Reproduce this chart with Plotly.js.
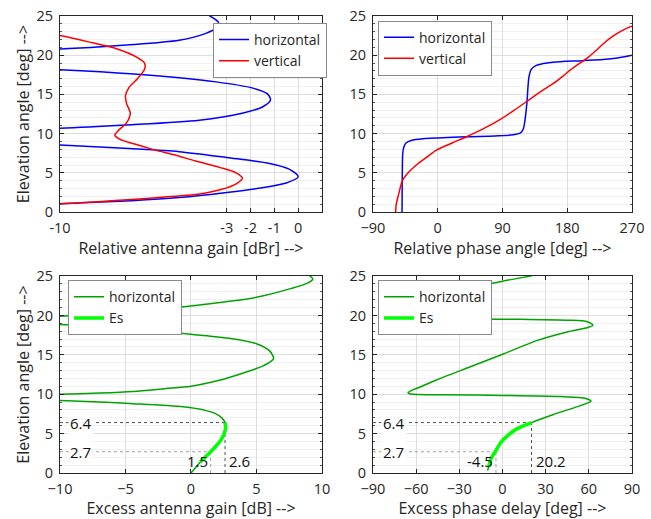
<!DOCTYPE html>
<html><head><meta charset="utf-8">
<script src="https://cdn.plot.ly/plotly-3.0.1.min.js"></script>
<style>html,body{margin:0;padding:0;background:#fff}#chart{width:651px;height:519px}</style>
</head><body><div id="chart"></div>
<script>
// ---- Top-left: relative antenna gain [dBr] vs elevation [deg] ----
const relGainH = [-12,-10,-7,-5,-3,-1.5,-0.5,0,-0.4,-1.2,-3,-5,-7.1,-10,-12, null,
  -12,-10,-7.2,-4.15,-2.35,-1.5,-1.16,-1.3,-1.9,-3.45,-6.9,-10,-12, null,
  -12,-10,-7.2,-5,-3.9,-3.4,-3.35,-3.7,-4];
const relGainHElev = [0.95,1.06,1.45,1.85,2.5,3.1,3.7,4.5,5.5,6.2,6.95,7.7,8.1,8.55,8.75, null,
  10.6,10.7,11.1,11.7,12.6,13.4,14.3,15.1,15.8,16.6,17.6,18.15,18.35, null,
  20.7,20.8,21.3,21.9,22.75,23.6,24.2,25,25.4];
const relGainV = [-12,-10,-7,-5.5,-4.15,-3.2,-2.6,-2.34,-2.6,-3.3,-4.3,-5.2,-6.0,-6.9,-7.5,-7.7,-7.55,-7.2,-7.05,-7.2,-7.25,-7.1,-6.75,-6.45,-6.45,-6.8,-7.6,-8.8,-10,-11];
const relGainVElev = [0.95,1.06,1.6,1.95,2.3,2.9,3.6,4.3,5.0,5.7,6.5,7.3,7.9,8.7,9.3,9.8,10.4,11.4,12.6,13.8,14.8,15.9,17.0,18.2,19.0,19.8,20.8,21.7,22.5,23];
const tlXTicks = [-10,-3,-2,-1,0];

// ---- Top-right: relative phase angle [deg] vs elevation ----
const relPhaseH = [-49.5,-49.3,-49,-48.5,-47,-44,-36,-20,0,40,80,105,115,119,121,123,124.5,125.5,127,130,137,145,160,200,230,250,270];
const relPhaseHElev = [0,3,6,7.5,8.3,8.8,9.15,9.35,9.45,9.6,9.7,9.85,10.1,10.6,11.5,13,14.5,16,17.3,18.2,18.7,18.9,19.1,19.3,19.45,19.65,20.0];
const relPhaseV = [-58.4,-57.5,-56,-52.8,-49,-41,-29.6,-15,-1.7,20,40.1,65,86.5,105,123.7,142,160.8,175,184,196,207.3,220,230.5,243,253.7,263,270];
const relPhaseVElev = [0,1,1.6,2.8,4.0,5.0,6.0,7.0,7.9,8.8,9.6,10.7,11.8,12.9,14.1,15.3,16.4,17.4,18.1,18.9,19.6,20.6,21.5,22.4,23.0,23.45,23.7];

// ---- Bottom-left: excess antenna gain [dB] ----
const exGainH = [0,0.4,0.83,1.2,1.5,1.9,2.25,2.5,2.65,2.6,2.35,1.8,1.1,-0.6,-4.4,-7,-10,-12, null,
  -12,-10,-7,-4.4,-2,0,2,4,5.5,6.3,6.0,5.0,3.3,0,-4.4,-7,-10,-12, null,
  -12,-10,-6,-2,0,2.5,5,7.6,8.9,9.3,9.1,8.7];
const exGainHElev = [0,0.8,1.6,2.2,2.7,3.4,4.1,4.9,5.7,6.4,7.0,7.6,7.95,8.4,8.8,9.0,9.2,9.3, null,
  9.95,10.0,10.15,10.35,10.7,11.0,11.7,12.7,13.6,14.5,15.5,16.4,17.0,17.6,18.3,18.6,18.85,18.95, null,
  19.85,19.9,20.4,20.9,21.2,21.7,22.3,23.4,24.1,24.6,25,25.4];
const exGainEs = [0.7,0.83,1.2,1.5,1.9,2.25,2.5,2.65,2.6];
const exGainEsElev = [1.4,1.6,2.2,2.7,3.4,4.1,4.9,5.7,6.4];

// ---- Bottom-right: excess phase delay [deg] ----
const exPhaseH = [-10.3,-9.3,-7.5,-5,-1,4,10,20.2,35,50,58,61.5,58,40,0,-40,-58,-64.5,-65.6,-63.5,-58,-45.9,-22.7,0.6,23.8,45,58,62.8,59,45,12,-18,-45,-60,-66,-62,-45,-19,0,19.2,25];
const exPhaseHElev = [0.3,1.0,2.0,2.7,3.9,4.8,5.6,6.4,7.4,8.3,8.8,9.1,9.45,9.7,9.85,9.92,9.97,10.05,10.2,10.45,10.85,11.8,13.45,15.1,16.8,17.9,18.4,18.75,19.2,19.4,19.5,19.55,19.65,19.9,20.5,21.3,22.3,23.6,24.35,25.0,25.3];
const exPhaseEs = [-9.5,-9.3,-7.5,-5,-1,4,10,20.2];
const exPhaseEsElev = [0.8,1.0,2.0,2.7,3.9,4.8,5.6,6.4];

// ---- Es marker values ----
const esElevMarks = [2.7, 6.4];
const esGainMarks = [1.5, 2.6];
const esPhaseMarks = [-4.5, 20.2];

const FONT = 'Open Sans, Noto Sans, sans-serif';
const TXT = '#262626';
const BLUE = '#0000ff', RED = '#ff0000', DGREEN = '#00a300', LGREEN = '#00ff00';
const markColors = ['#a0a0a0', '#505050'];

const traces = [];
function markLines(xa, ya, xmin, xs) {
  for (let i = 0; i < esElevMarks.length; i++) {
    const c = markColors[i];
    traces.push({x: [xmin, xs[i]], y: [esElevMarks[i], esElevMarks[i]], xaxis: xa, yaxis: ya, mode: 'lines',
      line: {color: c, width: 1, dash: '3px,3px'}, showlegend: false, hoverinfo: 'skip'});
    traces.push({x: [xs[i], xs[i]], y: [0, esElevMarks[i]], xaxis: xa, yaxis: ya, mode: 'lines',
      line: {color: c, width: 1, dash: '3px,3px'}, showlegend: false, hoverinfo: 'skip'});
  }
}
markLines('x3', 'y3', -10, esGainMarks);
markLines('x4', 'y4', -90, esPhaseMarks);

const sp = {shape: 'spline', smoothing: 0.8};
traces.push({x: relGainH, y: relGainHElev, xaxis: 'x', yaxis: 'y', mode: 'lines', name: 'horizontal', legend: 'legend',
  line: Object.assign({color: BLUE, width: 1.5}, sp), connectgaps: false});
traces.push({x: relGainV, y: relGainVElev, xaxis: 'x', yaxis: 'y', mode: 'lines', name: 'vertical', legend: 'legend',
  line: Object.assign({color: RED, width: 1.5}, sp)});
traces.push({x: relPhaseH, y: relPhaseHElev, xaxis: 'x2', yaxis: 'y2', mode: 'lines', name: 'horizontal', legend: 'legend2',
  line: Object.assign({color: BLUE, width: 1.5}, sp)});
traces.push({x: relPhaseV, y: relPhaseVElev, xaxis: 'x2', yaxis: 'y2', mode: 'lines', name: 'vertical', legend: 'legend2',
  line: Object.assign({color: RED, width: 1.5}, sp)});
traces.push({x: exGainH, y: exGainHElev, xaxis: 'x3', yaxis: 'y3', mode: 'lines', name: 'horizontal', legend: 'legend3',
  line: Object.assign({color: DGREEN, width: 1.5}, sp), connectgaps: false});
traces.push({x: exGainEs, y: exGainEsElev, xaxis: 'x3', yaxis: 'y3', mode: 'lines', name: 'Es', legend: 'legend3',
  line: Object.assign({color: LGREEN, width: 3.5}, sp)});
traces.push({x: exPhaseH, y: exPhaseHElev, xaxis: 'x4', yaxis: 'y4', mode: 'lines', name: 'horizontal', legend: 'legend4',
  line: Object.assign({color: DGREEN, width: 1.5}, sp)});
traces.push({x: exPhaseEs, y: exPhaseEsElev, xaxis: 'x4', yaxis: 'y4', mode: 'lines', name: 'Es', legend: 'legend4',
  line: Object.assign({color: LGREEN, width: 3.5}, sp)});

function xax(dom, range, title, extra) {
  return Object.assign({domain: dom, range: range, showline: true, mirror: 'allticks', linecolor: '#262626', linewidth: 1,
    ticks: 'inside', ticklen: 4, tickcolor: '#262626', showgrid: true, gridcolor: '#dedede', gridwidth: 1, zeroline: false,
    tickfont: {family: FONT, size: 14.5, color: TXT}, automargin: false, ticklabelstandoff: 3,
    title: {text: title, font: {family: FONT, size: 16, color: TXT}, standoff: 6}}, extra);
}
function yax(dom, anchor, title) {
  return {domain: dom, range: [0, 25], anchor: anchor, showline: true, mirror: 'allticks', linecolor: '#262626', linewidth: 1,
    ticks: 'inside', ticklen: 4, tickcolor: '#262626', dtick: 5, tick0: 0, showgrid: true, gridcolor: '#dedede', zeroline: false,
    minor: {dtick: 1, ticks: 'inside', ticklen: 2, tickcolor: '#555', showgrid: true, gridcolor: '#f0f0f0'},
    tickfont: {family: FONT, size: 14.5, color: TXT}, automargin: false, ticklabelstandoff: 3,
    title: {text: title, font: {family: FONT, size: 16, color: TXT}, standoff: 2}};
}
const XL = [0, 0.458], XR = [0.547, 1], YT = [0.571, 1], YB = [0, 0.431];
const ytitle = 'Elevation angle [deg] -->';

function legendAt(x, y) {
  return {x: x, y: y, xanchor: 'left', yanchor: 'top', xref: 'paper', yref: 'paper', bgcolor: '#ffffff',
    bordercolor: '#8a8a8a', borderwidth: 1, font: {family: FONT, size: 14, color: TXT}, itemwidth: 30,
    tracegroupgap: 0, traceorder: 'normal'};
}

function lbl(xa, ya, x, y, text, xanchor, xshift, yanchor, yshift, bg) {
  return {xref: xa, yref: ya, x: x, y: y, text: text, showarrow: false, xanchor: xanchor, yanchor: yanchor,
    xshift: xshift, yshift: yshift, bgcolor: bg ? '#ffffff' : 'rgba(0,0,0,0)', borderpad: 1,
    font: {family: FONT, size: 15, color: '#111'}};
}
const annotations = [];
for (let i = 0; i < esElevMarks.length; i++) {
  annotations.push(lbl('x3', 'y3', -10, esElevMarks[i], esElevMarks[i].toFixed(1), 'left', 8, 'middle', 0, true));
  annotations.push(lbl('x4', 'y4', -90, esElevMarks[i], esElevMarks[i].toFixed(1), 'left', 8, 'middle', 0, true));
}
annotations.push(lbl('x3', 'y3', esGainMarks[0], 0, esGainMarks[0].toFixed(1), 'right', -1, 'bottom', 0, false));
annotations.push(lbl('x3', 'y3', esGainMarks[1], 0, esGainMarks[1].toFixed(1), 'left', 2, 'bottom', 0, false));
annotations.push(lbl('x4', 'y4', esPhaseMarks[0], 0, esPhaseMarks[0].toFixed(1), 'right', -1, 'bottom', 0, false));
annotations.push(lbl('x4', 'y4', esPhaseMarks[1], 0, esPhaseMarks[1].toFixed(1), 'left', 2, 'bottom', 0, false));

const layout = {
  width: 651, height: 519, paper_bgcolor: '#ffffff', plot_bgcolor: '#ffffff',
  margin: {l: 60, r: 19, t: 16, b: 46},
  font: {family: FONT, color: TXT},
  xaxis: xax(XL, [-10, 1], 'Relative antenna gain [dBr] -->', {anchor: 'y', tickvals: tlXTicks, ticktext: tlXTicks.map(String)}),
  yaxis: yax(YT, 'x', ytitle),
  xaxis2: xax(XR, [-90, 270], 'Relative phase angle [deg] -->', {anchor: 'y2', dtick: 90, tick0: -90}),
  yaxis2: yax(YT, 'x2', ''),
  xaxis3: xax(XL, [-10, 10], 'Excess antenna gain [dB] -->', {anchor: 'y3', dtick: 5, tick0: -10}),
  yaxis3: yax(YB, 'x3', ytitle),
  xaxis4: xax(XR, [-90, 90], 'Excess phase delay [deg] -->', {anchor: 'y4', dtick: 30, tick0: -90}),
  yaxis4: yax(YB, 'x4', ''),
  legend: legendAt(0.2675, 0.985),
  legend2: legendAt(0.556, 0.99),
  legend3: legendAt(0.014, 0.422),
  legend4: legendAt(0.556, 0.422),
  annotations: annotations,
  showlegend: true
};

Plotly.newPlot('chart', traces, layout, {displayModeBar: false, staticPlot: true});
</script></body></html>
